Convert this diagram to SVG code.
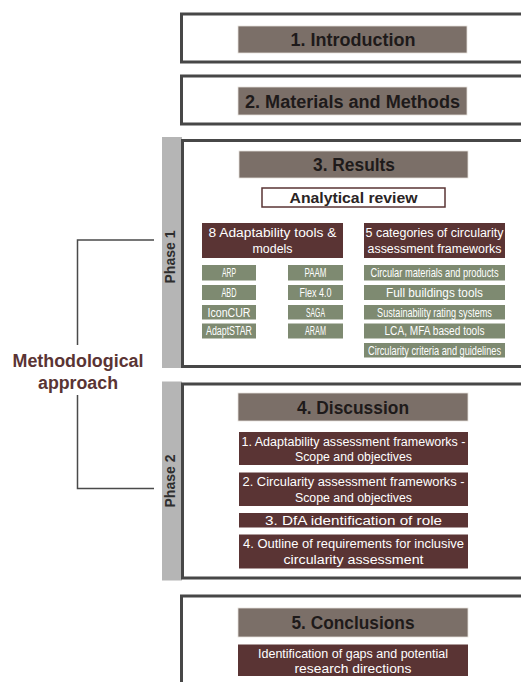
<svg xmlns="http://www.w3.org/2000/svg" width="521" height="682" viewBox="0 0 521 682">
<style>
.frame{fill:#fff;stroke:#474747;stroke-width:3}
.strip{fill:#b5b5b5}
.head{fill:#7b6f68;stroke:#e6e2dc;stroke-width:0.8}
.headt{font-family:"Liberation Sans",Arial,sans-serif;font-weight:bold;font-size:17.5px;fill:#1e1a1a;text-anchor:middle}
.dark{fill:#5a3434}
.darkt{font-family:"Liberation Sans",Arial,sans-serif;font-size:12.5px;fill:#fff;text-anchor:middle}
.green{fill:#7e8a71}
.greent{font-family:"Liberation Sans",Arial,sans-serif;font-size:12.5px;fill:#fff;text-anchor:middle}
.phase{font-family:"Liberation Sans",Arial,sans-serif;font-weight:bold;font-size:14px;fill:#2e2e2e;text-anchor:middle}
.conn{fill:none;stroke:#4a4a4a;stroke-width:1.5}
.meth{font-family:"Liberation Sans",Arial,sans-serif;font-weight:bold;font-size:18px;fill:#5a3434;text-anchor:middle}
</style>
<rect width="521" height="682" fill="#fff"/>
<g id="connectors">
<path class="conn" d="M154,240 H77.5 V345"/>
<path class="conn" d="M77.5,395 V488.5 H154"/>
</g>
<g id="methodological">
<text class="meth" x="78" y="367" textLength="131" lengthAdjust="spacingAndGlyphs">Methodological</text>
<text class="meth" x="78" y="389" textLength="80" lengthAdjust="spacingAndGlyphs">approach</text>
</g>
<g id="intro">
<rect class="frame" x="181.5" y="14" width="360" height="48"/>
<rect class="head" x="238" y="26" width="229" height="27"/>
<text class="headt" x="353" y="46" textLength="125" lengthAdjust="spacingAndGlyphs">1. Introduction</text>
</g>
<g id="methods">
<rect class="frame" x="181.5" y="76" width="360" height="48"/>
<rect class="head" x="238" y="87" width="229" height="28"/>
<text class="headt" x="352.5" y="107.5" textLength="215" lengthAdjust="spacingAndGlyphs">2. Materials and Methods</text>
</g>
<g id="phase1">
<rect class="strip" x="162" y="137" width="20" height="231"/>
<text class="phase" transform="translate(175,257) rotate(-90)">Phase 1</text>
<rect class="frame" x="182.5" y="140.5" width="360" height="226"/>
</g>
<g id="results">
<rect class="head" x="239" y="151" width="229" height="27"/>
<text class="headt" x="354" y="171" textLength="82" lengthAdjust="spacingAndGlyphs">3. Results</text>
</g>
<g id="analytical">
<rect x="262" y="188" width="183" height="19" fill="#fff" stroke="#5a3434" stroke-width="1.5"/>
<text x="353.5" y="203" font-family="Liberation Sans, Arial, sans-serif" font-weight="bold" font-size="15" fill="#2a2424" text-anchor="middle" textLength="128" lengthAdjust="spacingAndGlyphs">Analytical review</text>
</g>
<g id="adaptability">
<rect class="dark" x="202" y="223" width="141" height="35"/>
<text class="darkt" x="272.5" y="237" textLength="128" lengthAdjust="spacingAndGlyphs">8 Adaptability tools &amp;</text>
<text class="darkt" x="272.5" y="252.5" textLength="40" lengthAdjust="spacingAndGlyphs">models</text>
</g>
<g id="circularity">
<rect class="dark" x="364" y="223" width="141" height="35"/>
<text class="darkt" x="434.5" y="237" textLength="138" lengthAdjust="spacingAndGlyphs">5 categories of circularity</text>
<text class="darkt" x="434.5" y="252.5" textLength="134" lengthAdjust="spacingAndGlyphs">assessment frameworks</text>
</g>
<g id="arp"><rect class="green" x="202" y="265" width="54" height="15.5"/><text class="greent" x="229" y="277" textLength="14" lengthAdjust="spacingAndGlyphs">ARP</text></g>
<g id="abd"><rect class="green" x="202" y="285" width="54" height="15"/><text class="greent" x="229" y="296.5" textLength="15" lengthAdjust="spacingAndGlyphs">ABD</text></g>
<g id="iconcur"><rect class="green" x="202" y="305" width="54" height="14.5"/><text class="greent" x="229" y="316.5" textLength="43" lengthAdjust="spacingAndGlyphs">IconCUR</text></g>
<g id="adaptstar"><rect class="green" x="202" y="323.5" width="54" height="15"/><text class="greent" x="229" y="335" textLength="46" lengthAdjust="spacingAndGlyphs">AdaptSTAR</text></g>
<g id="paam"><rect class="green" x="288" y="265" width="55" height="15.5"/><text class="greent" x="315.5" y="277" textLength="22" lengthAdjust="spacingAndGlyphs">PAAM</text></g>
<g id="flex"><rect class="green" x="288" y="285" width="55" height="15"/><text class="greent" x="315.5" y="296.5" textLength="32" lengthAdjust="spacingAndGlyphs">Flex 4.0</text></g>
<g id="saga"><rect class="green" x="288" y="305" width="55" height="14.5"/><text class="greent" x="315.5" y="316.5" textLength="19" lengthAdjust="spacingAndGlyphs">SAGA</text></g>
<g id="aram"><rect class="green" x="288" y="323.5" width="55" height="15"/><text class="greent" x="315.5" y="335" textLength="21" lengthAdjust="spacingAndGlyphs">ARAM</text></g>
<g id="cmp"><rect class="green" x="364" y="265" width="141" height="15.5"/><text class="greent" transform="translate(434.5,277) scale(0.7,1)" x="0" y="0" textLength="183" lengthAdjust="spacingAndGlyphs">Circular materials and products</text></g>
<g id="fbt"><rect class="green" x="364" y="285" width="141" height="15"/><text class="greent" x="434.5" y="296.5" textLength="97" lengthAdjust="spacingAndGlyphs">Full buildings tools</text></g>
<g id="srs"><rect class="green" x="364" y="305" width="141" height="14.5"/><text class="greent" transform="translate(434.5,316.5) scale(0.7,1)" x="0" y="0" textLength="164" lengthAdjust="spacingAndGlyphs">Sustainability rating systems</text></g>
<g id="lca"><rect class="green" x="364" y="323.5" width="141" height="15"/><text class="greent" x="434.5" y="335" textLength="100" lengthAdjust="spacingAndGlyphs">LCA, MFA based tools</text></g>
<g id="ccg"><rect class="green" x="364" y="343" width="141" height="14.5"/><text class="greent" transform="translate(434.5,354.5) scale(0.7,1)" x="0" y="0" textLength="190" lengthAdjust="spacingAndGlyphs">Circularity criteria and guidelines</text></g>
<g id="phase2">
<rect class="strip" x="162" y="381.5" width="20" height="199"/>
<text class="phase" transform="translate(175,481) rotate(-90)">Phase 2</text>
<rect class="frame" x="182.5" y="384" width="360" height="194"/>
</g>
<g id="discussion">
<rect class="head" x="238" y="393" width="230" height="28"/>
<text class="headt" x="353" y="413.5" textLength="112" lengthAdjust="spacingAndGlyphs">4. Discussion</text>
</g>
<g id="d1">
<rect class="dark" x="239" y="432" width="229" height="33"/>
<text class="darkt" x="353.5" y="445.5" textLength="224" lengthAdjust="spacingAndGlyphs">1. Adaptability assessment frameworks -</text>
<text class="darkt" x="353.5" y="460.5" textLength="117" lengthAdjust="spacingAndGlyphs">Scope and objectives</text>
</g>
<g id="d2">
<rect class="dark" x="239" y="472.5" width="229" height="33.5"/>
<text class="darkt" x="353.5" y="486" textLength="222" lengthAdjust="spacingAndGlyphs">2. Circularity assessment frameworks -</text>
<text class="darkt" x="353.5" y="501.5" textLength="117" lengthAdjust="spacingAndGlyphs">Scope and objectives</text>
</g>
<g id="d3">
<rect class="dark" x="239" y="513" width="229" height="14.5"/>
<text class="darkt" x="353.5" y="524.5" textLength="177" lengthAdjust="spacingAndGlyphs">3. DfA identification of role</text>
</g>
<g id="d4">
<rect class="dark" x="239" y="534.5" width="229" height="34"/>
<text class="darkt" x="353.5" y="548" textLength="221" lengthAdjust="spacingAndGlyphs">4. Outline of requirements for inclusive</text>
<text class="darkt" x="353.5" y="563.5" textLength="140" lengthAdjust="spacingAndGlyphs">circularity assessment</text>
</g>
<g id="conclusions">
<rect class="frame" x="181.5" y="596" width="360" height="100"/>
<rect class="head" x="238" y="608" width="230" height="29"/>
<text class="headt" x="353" y="629" textLength="123" lengthAdjust="spacingAndGlyphs">5. Conclusions</text>
</g>
<g id="gaps">
<rect class="dark" x="238" y="644.5" width="230" height="31.5"/>
<text class="darkt" x="353" y="658" textLength="190" lengthAdjust="spacingAndGlyphs">Identification of gaps and potential</text>
<text class="darkt" x="353" y="672.5" textLength="117" lengthAdjust="spacingAndGlyphs">research directions</text>
</g>
</svg>
